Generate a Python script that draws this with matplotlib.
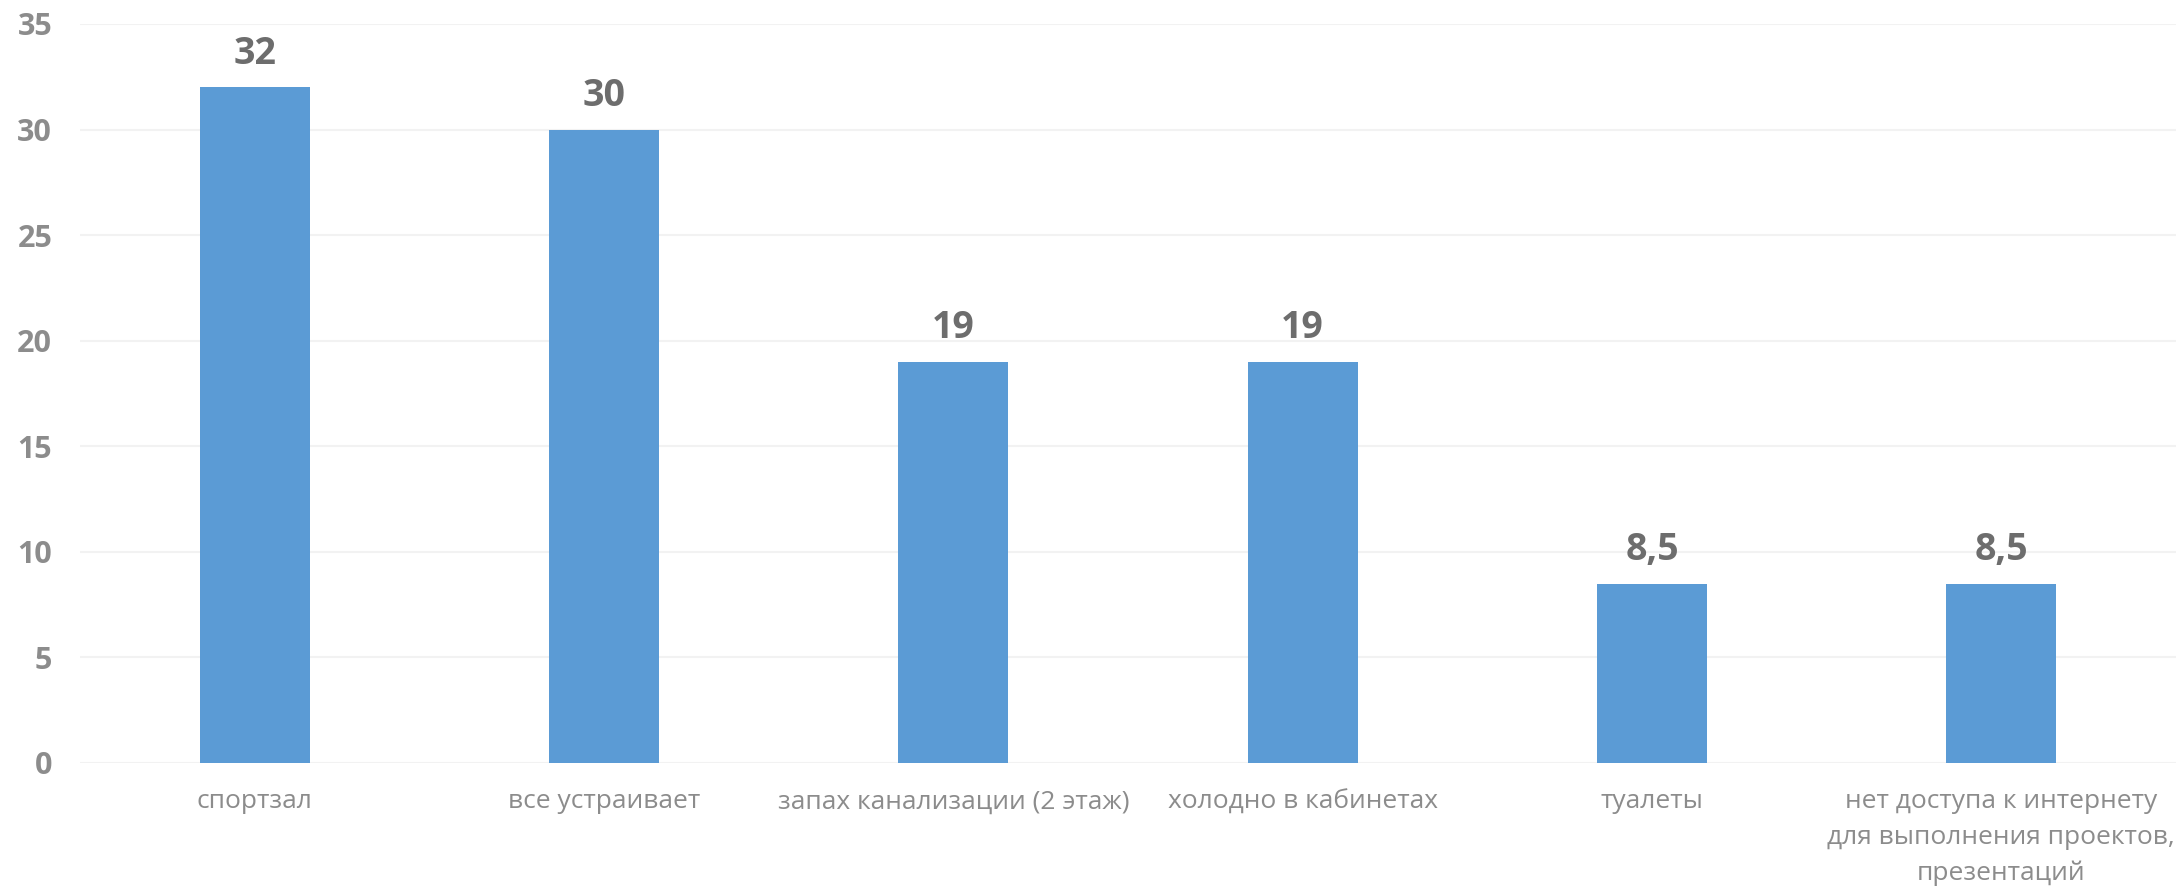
import matplotlib.pyplot as plt
import numpy as np

categories = [
    "спортзал",
    "все устраивает",
    "запах канализации (2 этаж)",
    "холодно в кабинетах",
    "туалеты",
    "нет доступа к интернету\nдля выполнения проектов,\nпрезентаций",
]
values = [32, 30, 19, 19, 8.5, 8.5]
y_ticks = [0, 5, 10, 15, 20, 25, 30, 35]

plt.rcParams["font.family"] = ["Open Sans", "DejaVu Sans"]

fig = plt.figure(figsize=(21.76, 8.86), dpi=100)
ax = fig.add_axes([80 / 2176, 1 - 763 / 886, 1 - 80 / 2176, (763 - 24) / 886])

x = np.arange(len(categories))
bars = ax.bar(x, values, width=0.314, color="#5b9bd5", zorder=3)

for rect, v in zip(bars, values):
    label = f"{v:g}".replace(".", ",")
    ax.text(rect.get_x() + rect.get_width() / 2, v + 0.7, label,
            ha="center", va="bottom", fontsize=27, fontweight="bold", color="#6d6d6d")

ax.set_xlim(-0.5, len(categories) - 0.5)
ax.set_ylim(0, 35)
ax.set_yticks(y_ticks)
ax.set_xticks(x)
ax.set_xticklabels(categories, fontsize=19, color="#8c8c8c", linespacing=1.55)
ax.tick_params(axis="x", length=0, pad=19)
ax.tick_params(axis="y", length=0, pad=20, labelsize=22, labelcolor="#8c8c8c")
for lbl in ax.get_yticklabels():
    lbl.set_fontweight("bold")

ax.grid(axis="y", color="#f2f2f2", linewidth=1.5, zorder=0)
for s in ax.spines.values():
    s.set_visible(False)

fig.savefig("out.png", dpi=100)
